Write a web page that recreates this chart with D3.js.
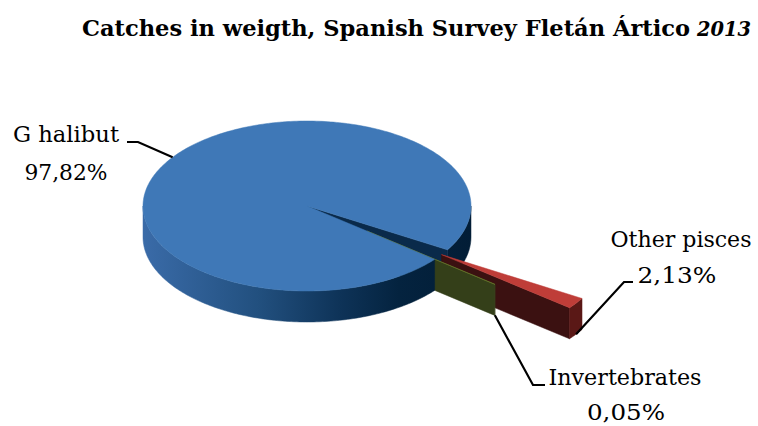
<!DOCTYPE html>
<html>
<head>
<meta charset="utf-8">
<script src="https://cdn.jsdelivr.net/npm/d3@7"></script>
<style>
  html, body { margin: 0; padding: 0; background: #fff; }
  svg { display: block; }
</style>
</head>
<body>
<svg id="chart" width="758" height="426"></svg>
<script>
// ---- data ----
const categories = ["G halibut", "Other pisces", "Invertebrates"];
const values = [97.82, 2.13, 0.05];
const valueLabels = ["97,82%", "2,13%", "0,05%"];
const titleMain = "Catches in weigth, Spanish Survey Fletán Ártico";
const titleYear = "2013";

// ---- layout / style ----
const FONT = "'DejaVu Serif', serif";
const cx = 307, cy = 206, RX = 164, RY = 85, DEPTH = 31;
const explode = [0, 1.0, 0.47];
const topColors = ["#3F78B7", "#BF3D38", "#6B7D2E"];
const sideColors = ["#0A2A4A", "#3B1111", "#343F19"];
const outerColors = ["url(#blueWall)", "#5A1816", "#3A4620"];
const deg = Math.PI / 180;

const svg = d3.select("#chart");
const defs = svg.append("defs");
const g = defs.append("linearGradient").attr("id", "blueWall")
  .attr("gradientUnits", "userSpaceOnUse")
  .attr("x1", cx - RX).attr("x2", cx + RX).attr("y1", 0).attr("y2", 0);
[[0, "#3A6BA8"], [0.35, "#22507F"], [0.6, "#0E3358"], [0.78, "#04233F"], [1, "#021D36"]]
  .forEach(([o, c]) => g.append("stop").attr("offset", o).attr("stop-color", c));

// pie angles (d3: clockwise from 12 o'clock) -> theta (clockwise from 3 o'clock, screen y down)
const startTheta = 38.9 * deg;
const pie = d3.pie().sort(null)
  .startAngle(startTheta + Math.PI / 2)
  .endAngle(startTheta + Math.PI / 2 + 2 * Math.PI);
const arcs = pie(values).map((d, i) => {
  const a0 = d.startAngle - Math.PI / 2, a1 = d.endAngle - Math.PI / 2;
  const mid = (a0 + a1) / 2;
  const off = [explode[i] * Math.cos(mid), explode[i] * Math.sin(mid)];
  return { i, a0, a1, mid, off };
});

const P = (s, theta, r, z) => [
  cx + RX * (s.off[0] + r * Math.cos(theta)),
  cy + RY * (s.off[1] + r * Math.sin(theta)) + z
];
const line = d3.line();
function arcPts(s, a, b, z) {
  const n = Math.max(2, Math.ceil(Math.abs(b - a) / deg));
  const pts = [];
  for (let k = 0; k <= n; k++) pts.push(P(s, a + (b - a) * k / n, 1, z));
  return pts;
}
function topFace(s) {
  return line([P(s, 0, 0, 0), ...arcPts(s, s.a0, s.a1, 0)]) + "Z";
}
function outerWall(s, a, b) {
  return line([...arcPts(s, a, b, 0), ...arcPts(s, b, a, DEPTH)]) + "Z";
}
function radialWall(s, th) {
  return line([P(s, 0, 0, 0), P(s, th, 1, 0), P(s, th, 1, DEPTH), P(s, 0, 0, DEPTH)]) + "Z";
}
const layer = svg.append("g");
function draw(d, fill) {
  layer.append("path").attr("d", d).attr("fill", fill).attr("stroke", fill).attr("stroke-width", 0.5);
}

const [blue, red, olive] = arcs;
// back-to-front ordering
draw(outerWall(blue, 2 * Math.PI, blue.a1), "url(#blueWall)");
draw(radialWall(blue, blue.a1), sideColors[0]);
// red slice
draw(radialWall(red, red.a1), sideColors[1]);
draw(outerWall(red, red.a0, red.a1), outerColors[1]);
draw(topFace(red), topColors[1]);
// olive slice
draw(radialWall(olive, olive.a1), sideColors[2]);
draw(outerWall(olive, olive.a0, olive.a1), outerColors[2]);
draw(topFace(olive), topColors[2]);
// blue front wall and top
draw(outerWall(blue, blue.a0, Math.PI), "url(#blueWall)");
draw(topFace(blue), topColors[0]);

// ---- title ----
svg.append("text")
  .attr("x", 82).attr("y", 36)
  .style("font-family", FONT)
  .attr("font-size", 22).attr("font-weight", "bold")
  .attr("textLength", 608).attr("lengthAdjust", "spacingAndGlyphs")
  .attr("fill", "#000")
  .text(titleMain);
svg.append("text")
  .attr("x", 751).attr("y", 36)
  .attr("text-anchor", "end")
  .style("font-family", FONT)
  .attr("font-size", 21).attr("font-weight", "bold").attr("font-style", "italic")
  .attr("textLength", 54).attr("lengthAdjust", "spacingAndGlyphs")
  .attr("fill", "#000")
  .text(titleYear);

// ---- labels and leaders ----
const labelPos = [
  { nx: 66, ny: 142, vx: 66, vy: 180, nw: 106, vw: 83, anchorZ: 0, leader: [[127, 142], [138, 142]] },
  { nx: 681, ny: 247, vx: 677, vy: 283, nw: 141, vw: 79, anchorZ: DEPTH, leader: [[633, 282], [624, 282]] },
  { nx: 625, ny: 385, vx: 626, vy: 420, nw: 153, vw: 78, anchorZ: DEPTH, leader: [[545, 385], [533, 385]] }
];
arcs.forEach((s, i) => {
  const L = labelPos[i];
  const anchor = P(s, s.mid, 1, L.anchorZ);
  svg.append("path")
    .attr("d", line([L.leader[0], L.leader[1], anchor]))
    .attr("fill", "none").attr("stroke", "#000").attr("stroke-width", 2.2);
  svg.append("text").attr("x", L.nx).attr("y", L.ny)
    .attr("text-anchor", "middle")
    .style("font-family", FONT)
    .attr("font-size", 22)
    .attr("textLength", L.nw).attr("lengthAdjust", "spacingAndGlyphs")
    .text(categories[i]);
  svg.append("text").attr("x", L.vx).attr("y", L.vy)
    .attr("text-anchor", "middle")
    .style("font-family", FONT)
    .attr("font-size", 22)
    .attr("textLength", L.vw).attr("lengthAdjust", "spacingAndGlyphs")
    .text(valueLabels[i]);
});
</script>
</body>
</html>
